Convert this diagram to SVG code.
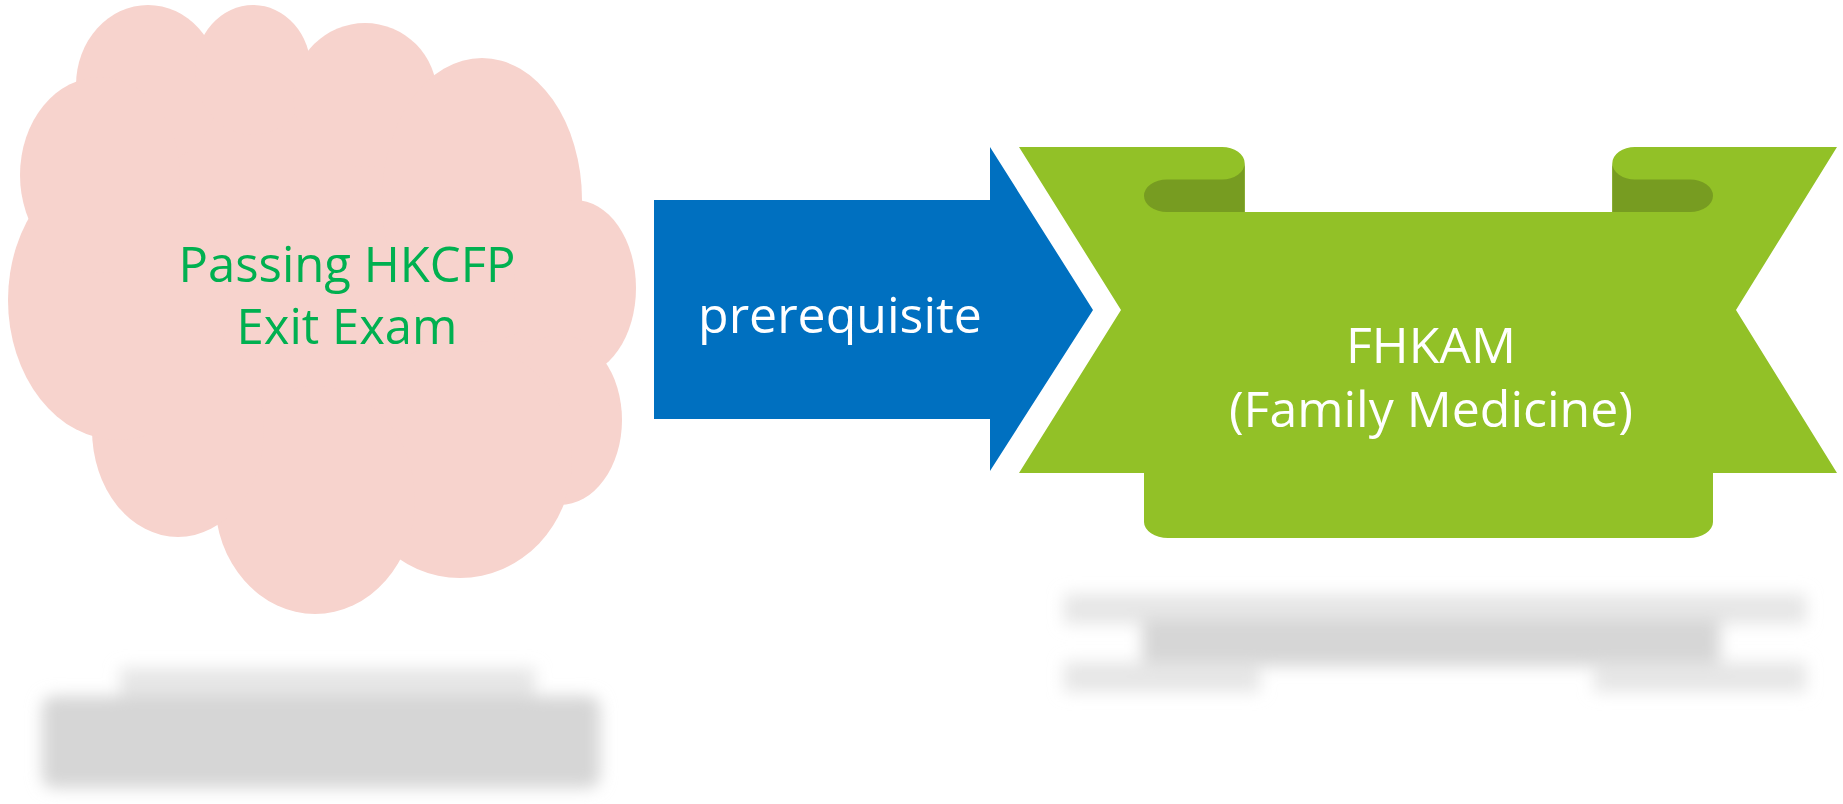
<svg xmlns="http://www.w3.org/2000/svg" width="1843" height="804" viewBox="0 0 1843 804">
<defs>
<style>
.cloud{fill:#f7d3cd}
.shadow{fill:#d6d6d6}
.shadowl{fill:#e6e6e6}
.blue{fill:#0070c0}
.green{fill:#92c127}
.dark{fill:#779c21}
.t{font-family:"Open Sans","Noto Sans","Liberation Sans",sans-serif;text-anchor:middle}
.tc{fill:#00b050;font-size:49px}
.tw{fill:#ffffff;font-size:50px}
</style>
<filter id="blur" x="-20%" y="-60%" width="140%" height="220%"><feGaussianBlur stdDeviation="8"/></filter>
</defs>
<g id="shadows">
<g filter="url(#blur)">
<rect class="shadowl" x="120" y="668" width="415" height="40"/>
<rect class="shadow" x="42" y="696" width="558" height="92" rx="12"/>
</g>
<g filter="url(#blur)">
<rect class="shadowl" x="1064" y="594" width="742" height="30"/>
<rect class="shadow" x="1142" y="620" width="578" height="46"/>
<rect class="shadowl" x="1064" y="662" width="196" height="30"/>
<rect class="shadowl" x="1594" y="662" width="212" height="30"/>
</g>
</g>
<g id="cloud">
<ellipse class="cloud" cx="320" cy="300" rx="240" ry="220"/>
<ellipse class="cloud" cx="148" cy="85" rx="72" ry="80"/>
<ellipse class="cloud" cx="253" cy="70" rx="58" ry="65"/>
<ellipse class="cloud" cx="365" cy="95" rx="72" ry="72"/>
<ellipse class="cloud" cx="482" cy="200" rx="100" ry="142"/>
<ellipse class="cloud" cx="575" cy="288" rx="61" ry="88"/>
<ellipse class="cloud" cx="560" cy="420" rx="62" ry="85"/>
<ellipse class="cloud" cx="460" cy="460" rx="112" ry="118"/>
<ellipse class="cloud" cx="315" cy="500" rx="100" ry="114"/>
<ellipse class="cloud" cx="178" cy="430" rx="86" ry="107"/>
<ellipse class="cloud" cx="118" cy="300" rx="110" ry="140"/>
<ellipse class="cloud" cx="100" cy="175" rx="80" ry="98"/>
<text class="t tc" x="347" y="282">Passing HKCFP</text>
<text class="t tc" x="347" y="344">Exit Exam</text>
</g>
<g id="connectors">
<g id="arrow">
<polygon class="blue" points="654,200 990,200 990,147 1093,310 990,471 990,419 654,419"/>
<text class="t tw" x="840" y="333">prerequisite</text>
</g>
</g>
<g id="ribbon">
<path class="green" d="M1019,147 L1222,147 A22.7,16.3 0 0 1 1244.7,163.3 L1244.7,212 L1612.3,212 L1612.3,163.3 A22.7,16.3 0 0 1 1635,147 L1837,147 L1736,310 L1837,473 L1713,473 L1713,522 A24,16 0 0 1 1689,538 L1168,538 A24,16 0 0 1 1144,522 L1144,473 L1019,473 L1121,310 Z"/>
<path class="dark" d="M1167,179.5 L1222,179.5 A22.7,16.3 0 0 0 1244.7,163.3 L1244.7,212 L1167,212 A23,16.25 0 0 1 1167,179.5 Z"/>
<path class="dark" d="M1690,179.5 L1635,179.5 A22.7,16.3 0 0 1 1612.3,163.3 L1612.3,212 L1690,212 A23,16.25 0 0 0 1690,179.5 Z"/>
<text class="t tw" x="1431" y="363">FHKAM</text>
<text class="t tw" x="1431" y="427">(Family Medicine)</text>
</g>
</svg>
